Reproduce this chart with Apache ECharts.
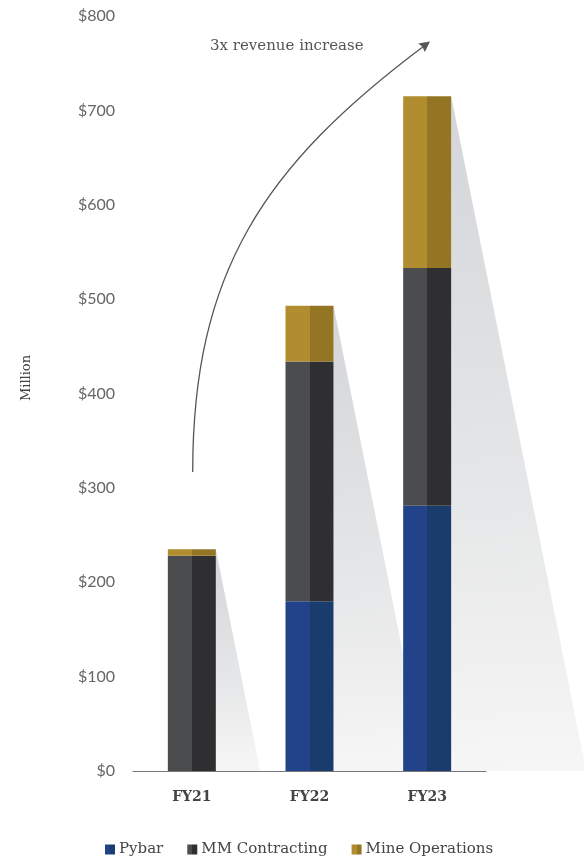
<!DOCTYPE html>
<html>
<head>
<meta charset="utf-8">
<script src="https://cdn.jsdelivr.net/npm/echarts@6/dist/echarts.min.js"></script>
<style>
  html, body { margin: 0; padding: 0; background: #fff; }
  #chart { width: 584px; height: 857px; }
</style>
</head>
<body>
<div id="chart"></div>
<script>
// data ($ million)
const years = ['FY21', 'FY22', 'FY23'];
const pybar = [0, 180, 281];
const mmContracting = [228, 254, 252];
const mineOperations = [7, 59, 182];
const yTicks = [0, 100, 200, 300, 400, 500, 600, 700, 800];

const BAR_W = 48;
const serif = '"DejaVu Serif", serif';

// two tone fill: light left half, dark right half
function twoTone(light, dark) {
  return {
    type: 'linear', x: 0, y: 0, x2: 1, y2: 0,
    colorStops: [
      { offset: 0, color: light }, { offset: 0.5, color: light },
      { offset: 0.5, color: dark }, { offset: 1, color: dark }
    ]
  };
}

const totals = years.map((y, i) => pybar[i] + mmContracting[i] + mineOperations[i]);

const chart = echarts.init(document.getElementById('chart'));

const option = {
  animation: false,
  grid: { left: 133, right: 98, top: 16, bottom: 86 },
  legend: {
    left: 100, top: 837,
    itemWidth: 10, itemHeight: 10, itemGap: 24,
    icon: 'rect',
    textStyle: { fontFamily: serif, fontSize: 15, color: '#444', padding: [0, 0, 0, -1] },
    data: ['Pybar', 'MM Contracting', 'Mine Operations']
  },
  xAxis: {
    type: 'category',
    data: years,
    axisLine: { lineStyle: { color: '#777', width: 1 } },
    axisTick: { show: false },
    axisLabel: { fontFamily: serif, fontWeight: 'bold', fontSize: 14, color: '#444', margin: 19 }
  },
  yAxis: {
    type: 'value',
    min: yTicks[0], max: yTicks[yTicks.length - 1], interval: 100,
    axisLine: { show: false },
    axisTick: { show: false },
    splitLine: { show: false },
    axisLabel: { fontFamily: 'Lato', fontSize: 16, color: '#666', margin: 18, formatter: v => '$' + v }
  },
  series: [
    {
      // gray shadow cast to the right of each bar
      type: 'custom',
      z: 1,
      silent: true,
      data: totals.map((t, i) => [i, t]),
      renderItem: function (params, api) {
        const top = api.coord([api.value(0), api.value(1)]);
        const base = api.coord([api.value(0), 0]);
        const x = top[0] + BAR_W / 2;
        const h = base[1] - top[1];
        return {
          type: 'polygon',
          shape: { points: [[x, top[1]], [x, base[1]], [x + h * 0.2, base[1]]] },
          style: {
            fill: {
              type: 'linear', x: 0, y: 0, x2: 0.3, y2: 1,
              colorStops: [
                { offset: 0, color: '#d4d5d8' },
                { offset: 0.6, color: '#e6e7e8' },
                { offset: 1, color: '#f6f6f6' }
              ]
            }
          }
        };
      }
    },
    {
      name: 'Pybar', type: 'bar', stack: 'rev', barWidth: BAR_W, z: 3,
      itemStyle: { color: twoTone('#22438a', '#1a3c6d') },
      data: pybar
    },
    {
      name: 'MM Contracting', type: 'bar', stack: 'rev', barWidth: BAR_W, z: 3,
      itemStyle: { color: twoTone('#4b4c4e', '#2f2f31') },
      data: mmContracting
    },
    {
      name: 'Mine Operations', type: 'bar', stack: 'rev', barWidth: BAR_W, z: 3,
      itemStyle: { color: twoTone('#b18d2f', '#937524') },
      data: mineOperations
    }
  ],
  graphic: [
    {
      type: 'text',
      x: 27, y: 378, rotation: Math.PI / 2,
      style: { text: 'Million', font: '13px "DejaVu Serif"', fill: '#444', align: 'center', verticalAlign: 'middle' }
    },
    {
      type: 'bezierCurve',
      shape: { x1: 192.7, y1: 472, cpx1: 192.7, cpy1: 272, cpx2: 264, cpy2: 166, x2: 424, y2: 46 },
      style: { stroke: '#555', lineWidth: 1.3, fill: null },
      z: 10
    },
    {
      type: 'polygon',
      shape: { points: [[430, 41.5], [418.2, 43.6], [422.4, 46.8], [424.8, 52]] },
      style: { fill: '#555' },
      z: 10
    },
    {
      type: 'text',
      left: 210, top: 39,
      style: { text: '3x revenue increase', font: '15px "DejaVu Serif"', fill: '#555' },
      z: 10
    }
  ]
};

chart.setOption(option);
</script>
</body>
</html>
